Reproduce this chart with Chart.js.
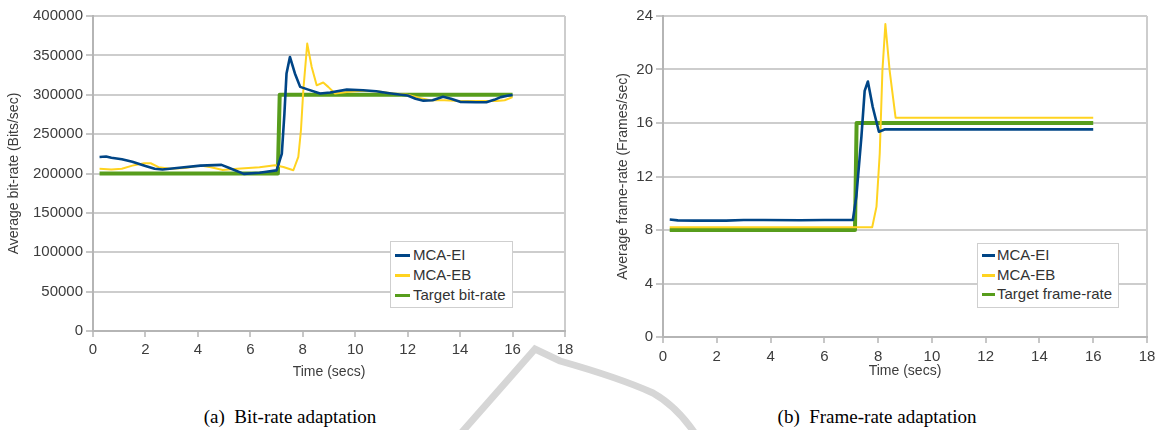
<!DOCTYPE html>
<html>
<head>
<meta charset="utf-8">
<script src="https://cdn.jsdelivr.net/npm/chart.js@4.4.1/dist/chart.umd.min.js"></script>
<style>
  html, body { margin:0; padding:0; background:#fff; }
  body { width:1164px; height:430px; position:relative; overflow:hidden; font-family:"Liberation Sans", Arial, sans-serif; }
  .wrap { position:absolute; top:0; }
  canvas { display:block; }
  .legend { position:absolute; background:#fff; border:1px solid #cfcfcf; box-sizing:border-box; color:#333; font-size:15px; }
  .legend .row { position:absolute; left:0; height:20px; line-height:20px; white-space:nowrap; }
  .legend .sw { position:absolute; top:9px; height:3px; }
  .legend .tx { position:absolute; top:0; }
  .caption { position:absolute; font-family:"Liberation Serif", "Times New Roman", serif; font-size:19px; color:#000; white-space:pre; transform:translateX(-50%); }
  #wm { position:absolute; left:0; top:0; }
</style>
</head>
<body>
<svg id="wm" width="1164" height="430"><path d="M 462 432 L 535 349 L 560 361 Q 620 378 653 393 Q 676 406 694 432" fill="none" stroke="#d6d6d6" stroke-width="7" stroke-linejoin="miter"/></svg>
<div class="wrap" style="left:0;width:580px;height:384px;"><canvas id="cA" width="580" height="384"></canvas></div>
<div class="wrap" style="left:580px;width:584px;height:383px;"><canvas id="cB" width="584" height="383"></canvas></div>
<div class="legend" id="legA" style="left:390px;top:241px;width:123px;height:67px;"></div>
<div class="legend" id="legB" style="left:977px;top:243px;width:142px;height:65px;"></div>
<div class="caption" style="left:290px;top:406px;">(a)  Bit-rate adaptation</div>
<div class="caption" style="left:877px;top:406px;">(b)  Frame-rate adaptation</div>
<script>
// ---- Data: (a) bit-rate adaptation ----
const eiTimeA = [0.25,0.5,0.7,1.1,1.5,2.0,2.35,2.65,3.2,4.1,4.9,5.2,5.75,6.35,7.0,7.2,7.3,7.38,7.51,7.7,7.9,8.21,8.66,9.04,9.68,10.3,10.8,11.3,12.0,12.3,12.6,12.95,13.35,13.65,14.0,14.6,15.0,15.3,15.55,15.85,16.0];
const eiRateA = [221000,221500,220000,218000,215000,209500,206000,205000,207000,210000,211000,207000,199500,201000,204000,225000,276000,327000,348000,327000,310000,306500,301500,302800,306500,305700,304400,302000,299000,295000,292500,293000,297500,295000,291000,290500,290500,293500,297000,299000,299700];
const ebTimeA = [0.25,0.7,1.1,1.5,1.95,2.2,2.5,2.95,3.5,4.1,4.5,4.95,5.5,6.35,6.94,7.26,7.64,7.83,7.93,8.02,8.17,8.34,8.53,8.78,8.97,9.23,9.68,10.3,10.9,11.45,12.0,12.45,12.85,13.4,14.0,14.85,15.4,15.7,16.0];
const ebRateA = [206000,205000,206000,210000,213000,213000,208000,206000,207000,210000,208000,204500,206000,208000,210400,208300,204100,221000,254900,305700,365000,335300,312000,315500,310000,301500,303500,305000,304000,301500,300000,296000,293000,293000,292000,292000,292000,293000,297000];
const targetTimeA = [0.25,7.05,7.12,16.0];
const targetRateA = [200000,200000,300000,300000];

// ---- Data: (b) frame-rate adaptation ----
const eiTimeB = [0.25,0.55,1.2,2.35,3.0,3.75,5.1,6.0,7.06,7.19,7.38,7.5,7.62,7.8,8.03,8.24,16.0];
const eiFpsB  = [8.78,8.72,8.7,8.7,8.75,8.75,8.73,8.75,8.75,10.5,15.0,18.4,19.1,17.2,15.35,15.52,15.52];
const ebTimeB = [0.25,7.78,7.94,8.06,8.16,8.27,8.43,8.65,16.0];
const ebFpsB  = [8.2,8.2,9.75,13.7,19.9,23.4,19.9,16.4,16.4];
const targetTimeB = [0.25,7.14,7.2,16.0];
const targetFpsB  = [8,8,16,16];

const seriesNames = ['MCA-EI','MCA-EB'];
const targetNames = ['Target bit-rate','Target frame-rate'];
const xTicks = [0,2,4,6,8,10,12,14,16,18];

const COL_EI = '#004586', COL_EB = '#ffd320', COL_T = '#579d1c';
const pts = (xs, ys) => xs.map((x,i) => ({x:x, y:ys[i]}));
const FONT = '"Liberation Sans", Arial, sans-serif';
const TXT = '#3c3c3c';
const GRID = '#cdcdcd';
const AXIS = '#b5b5b5';

function makeChart(id, datasets, yMax, yStep, yTitle, opt) {
  return new Chart(document.getElementById(id), {
    type: 'line',
    data: { datasets: datasets },
    options: {
      responsive: false,
      animation: false,
      events: [],
      layout: { padding: { top: 16, right: opt.padRight, left: 0, bottom: 0 } },
      plugins: { legend: { display: false }, tooltip: { enabled: false } },
      elements: { point: { radius: 0 }, line: { tension: 0, borderCapStyle: 'butt', borderJoinStyle: 'round' } },
      scales: {
        x: {
          type: 'linear', min: 0, max: 18,
          afterBuildTicks: s => { s.ticks = xTicks.map(v => ({value: v})); },
          afterFit: s => { s.height = opt.xHeight; },
          ticks: { color: TXT, font: { family: FONT, size: 15 }, padding: opt.xTickPad, maxRotation: 0, callback: v => String(v) },
          grid: { drawOnChartArea: true, color: c => (c.tick && c.tick.value === 18) ? GRID : 'rgba(0,0,0,0)', lineWidth: 2, tickLength: 6, tickColor: AXIS, tickWidth: 1.5 },
          border: { display: true, color: AXIS, width: 2 },
          title: { display: true, text: 'Time (secs)', color: TXT, font: { family: FONT, size: 14 }, padding: { top: 0, bottom: 3 } }
        },
        y: {
          type: 'linear', min: 0, max: yMax,
          ticks: { stepSize: yStep, color: TXT, font: { family: FONT, size: 15 }, padding: 3, callback: v => String(v) },
          afterFit: s => { s.width = opt.yWidth; },
          grid: { color: GRID, lineWidth: 2, tickLength: 7, tickColor: AXIS, tickWidth: 1.5 },
          border: { display: true, color: AXIS, width: 2 },
          title: { display: true, text: yTitle, color: TXT, font: { family: FONT, size: 14 }, padding: { top: opt.yTitlePad, bottom: 0 } }
        }
      }
    }
  });
}

function ds(label, data, color, width, order) {
  return { label: label, data: data, borderColor: color, backgroundColor: color, borderWidth: width, order: order, fill: false };
}

const chartA = makeChart('cA', [
  ds(seriesNames[0], pts(eiTimeA, eiRateA), COL_EI, 2.6, 1),
  ds(seriesNames[1], pts(ebTimeA, ebRateA), COL_EB, 2, 2),
  ds(targetNames[0], pts(targetTimeA, targetRateA), COL_T, 4, 3)
], 400000, 50000, 'Average bit-rate (Bits/sec)', { padRight: 15, xHeight: 53, yWidth: 93, xTickPad: 4, yTitlePad: 6 });

const chartB = makeChart('cB', [
  ds(seriesNames[0], pts(eiTimeB, eiFpsB), COL_EI, 2.6, 1),
  ds(seriesNames[1], pts(ebTimeB, ebFpsB), COL_EB, 2, 2),
  ds(targetNames[1], pts(targetTimeB, targetFpsB), COL_T, 4, 3)
], 24, 4, 'Average frame-rate (Frames/sec)', { padRight: 17, xHeight: 46, yWidth: 83, xTickPad: 5, yTitlePad: 35 });

function buildLegend(elId, chart, swLeft, swW, txLeft, rowTops) {
  const el = document.getElementById(elId);
  chart.data.datasets.forEach((d, i) => {
    const row = document.createElement('div');
    row.className = 'row';
    row.style.top = rowTops[i] + 'px';
    row.style.width = '100%';
    const sw = document.createElement('span');
    sw.className = 'sw';
    sw.style.left = swLeft + 'px';
    sw.style.width = swW + 'px';
    sw.style.background = d.borderColor;
    const tx = document.createElement('span');
    tx.className = 'tx';
    tx.style.left = txLeft + 'px';
    tx.textContent = d.label;
    row.appendChild(sw); row.appendChild(tx);
    el.appendChild(row);
  });
}
buildLegend('legA', chartA, 4, 15, 22, [3, 23, 43]);
buildLegend('legB', chartB, 4, 13, 19, [1, 21, 40]);
</script>
</body>
</html>
